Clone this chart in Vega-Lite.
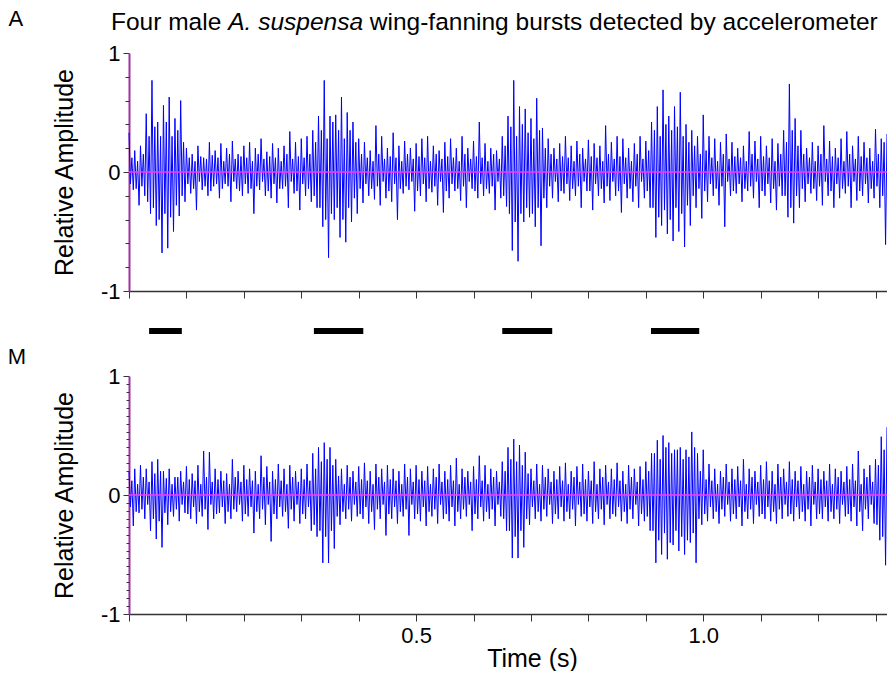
{
"$schema": "https://vega.github.io/schema/vega-lite/v6.json",
"padding": {"left": 7, "top": 7, "right": 0, "bottom": 0},
"background": "white",
"config": {"view": {"stroke": null}, "font": "Liberation Sans", "axis": {"grid": false, "labelFontSize": 22, "titleFontSize": 25, "labelColor": "black", "titleColor": "black", "titleFontWeight": "normal", "labelFont": "Liberation Sans", "titleFont": "Liberation Sans", "tickColor": "#333333", "labelOverlap": false}},
"datasets": {
"A": [
{"t":0,"v":0.33},{"t":0.0025,"v":-0.1},{"t":0.005,"v":0.12},{"t":0.0075,"v":-0.15},
{"t":0.01,"v":0.18},{"t":0.0125,"v":-0.14},{"t":0.015,"v":0.09},{"t":0.0175,"v":-0.28},
{"t":0.02,"v":0.22},{"t":0.0225,"v":-0.12},{"t":0.025,"v":0.15},{"t":0.0275,"v":-0.2},
{"t":0.03,"v":0.49},{"t":0.0325,"v":-0.25},{"t":0.035,"v":0.3},{"t":0.0375,"v":-0.35},
{"t":0.04,"v":0.77},{"t":0.0425,"v":-0.3},{"t":0.045,"v":0.38},{"t":0.0475,"v":-0.45},
{"t":0.05,"v":0.42},{"t":0.0525,"v":-0.4},{"t":0.055,"v":0.3},{"t":0.0575,"v":-0.68},
{"t":0.06,"v":0.56},{"t":0.0625,"v":-0.35},{"t":0.065,"v":0.42},{"t":0.0675,"v":-0.64},
{"t":0.07,"v":0.63},{"t":0.0725,"v":-0.38},{"t":0.075,"v":0.3},{"t":0.0775,"v":-0.5},
{"t":0.08,"v":0.45},{"t":0.0825,"v":-0.28},{"t":0.085,"v":0.35},{"t":0.0875,"v":-0.37},
{"t":0.09,"v":0.6},{"t":0.0925,"v":-0.2},{"t":0.095,"v":0.25},{"t":0.0975,"v":-0.25},
{"t":0.1,"v":0.2},{"t":0.1025,"v":-0.1},{"t":0.105,"v":0.12},{"t":0.1075,"v":-0.18},
{"t":0.11,"v":0.15},{"t":0.1125,"v":-0.14},{"t":0.115,"v":0.09},{"t":0.1175,"v":-0.32},
{"t":0.12,"v":0.22},{"t":0.1225,"v":-0.08},{"t":0.125,"v":0.13},{"t":0.1275,"v":-0.15},
{"t":0.13,"v":0.12},{"t":0.1325,"v":-0.12},{"t":0.135,"v":0.11},{"t":0.1375,"v":-0.2},
{"t":0.14,"v":0.25},{"t":0.1425,"v":-0.16},{"t":0.145,"v":0.14},{"t":0.1475,"v":-0.12},
{"t":0.15,"v":0.18},{"t":0.1525,"v":-0.1},{"t":0.155,"v":0.12},{"t":0.1575,"v":-0.22},
{"t":0.16,"v":0.24},{"t":0.1625,"v":-0.14},{"t":0.165,"v":0.09},{"t":0.1675,"v":-0.1},
{"t":0.17,"v":0.2},{"t":0.1725,"v":-0.12},{"t":0.175,"v":0.15},{"t":0.1775,"v":-0.25},
{"t":0.18,"v":0.26},{"t":0.1825,"v":-0.08},{"t":0.185,"v":0.11},{"t":0.1875,"v":-0.14},
{"t":0.19,"v":0.15},{"t":0.1925,"v":-0.16},{"t":0.195,"v":0.13},{"t":0.1975,"v":-0.2},
{"t":0.2,"v":0.22},{"t":0.2025,"v":-0.1},{"t":0.205,"v":0.12},{"t":0.2075,"v":-0.18},
{"t":0.21,"v":0.25},{"t":0.2125,"v":-0.14},{"t":0.215,"v":0.09},{"t":0.2175,"v":-0.35},
{"t":0.22,"v":0.2},{"t":0.2225,"v":-0.12},{"t":0.225,"v":0.15},{"t":0.2275,"v":-0.15},
{"t":0.23,"v":0.28},{"t":0.2325,"v":-0.08},{"t":0.235,"v":0.11},{"t":0.2375,"v":-0.2},
{"t":0.24,"v":0.17},{"t":0.2425,"v":-0.16},{"t":0.245,"v":0.13},{"t":0.2475,"v":-0.22},
{"t":0.25,"v":0.24},{"t":0.2525,"v":-0.1},{"t":0.255,"v":0.12},{"t":0.2575,"v":-0.26},
{"t":0.26,"v":0.2},{"t":0.2625,"v":-0.14},{"t":0.265,"v":0.09},{"t":0.2675,"v":-0.14},
{"t":0.27,"v":0.22},{"t":0.2725,"v":-0.12},{"t":0.275,"v":0.15},{"t":0.2775,"v":-0.3},
{"t":0.28,"v":0.34},{"t":0.2825,"v":-0.08},{"t":0.285,"v":0.11},{"t":0.2875,"v":-0.18},
{"t":0.29,"v":0.25},{"t":0.2925,"v":-0.16},{"t":0.295,"v":0.13},{"t":0.2975,"v":-0.32},
{"t":0.3,"v":0.28},{"t":0.3025,"v":-0.1},{"t":0.305,"v":0.12},{"t":0.3075,"v":-0.2},
{"t":0.31,"v":0.3},{"t":0.3125,"v":-0.14},{"t":0.315,"v":0.15},{"t":0.3175,"v":-0.25},
{"t":0.32,"v":0.35},{"t":0.3225,"v":-0.2},{"t":0.325,"v":0.25},{"t":0.3275,"v":-0.3},
{"t":0.33,"v":0.47},{"t":0.3325,"v":-0.3},{"t":0.335,"v":0.35},{"t":0.3375,"v":-0.46},
{"t":0.34,"v":0.77},{"t":0.3425,"v":-0.4},{"t":0.345,"v":0.28},{"t":0.3475,"v":-0.72},
{"t":0.35,"v":0.47},{"t":0.3525,"v":-0.35},{"t":0.355,"v":0.42},{"t":0.3575,"v":-0.4},
{"t":0.36,"v":0.48},{"t":0.3625,"v":-0.3},{"t":0.365,"v":0.35},{"t":0.3675,"v":-0.55},
{"t":0.37,"v":0.63},{"t":0.3725,"v":-0.4},{"t":0.375,"v":0.28},{"t":0.3775,"v":-0.59},
{"t":0.38,"v":0.5},{"t":0.3825,"v":-0.3},{"t":0.385,"v":0.35},{"t":0.3875,"v":-0.42},
{"t":0.39,"v":0.42},{"t":0.3925,"v":-0.22},{"t":0.395,"v":0.25},{"t":0.3975,"v":-0.35},
{"t":0.4,"v":0.28},{"t":0.4025,"v":-0.14},{"t":0.405,"v":0.15},{"t":0.4075,"v":-0.26},
{"t":0.41,"v":0.25},{"t":0.4125,"v":-0.1},{"t":0.415,"v":0.12},{"t":0.4175,"v":-0.2},
{"t":0.42,"v":0.18},{"t":0.4225,"v":-0.14},{"t":0.425,"v":0.09},{"t":0.4275,"v":-0.23},
{"t":0.43,"v":0.39},{"t":0.4325,"v":-0.12},{"t":0.435,"v":0.15},{"t":0.4375,"v":-0.28},
{"t":0.44,"v":0.3},{"t":0.4425,"v":-0.08},{"t":0.445,"v":0.11},{"t":0.4475,"v":-0.22},
{"t":0.45,"v":0.2},{"t":0.4525,"v":-0.16},{"t":0.455,"v":0.13},{"t":0.4575,"v":-0.25},
{"t":0.46,"v":0.33},{"t":0.4625,"v":-0.1},{"t":0.465,"v":0.12},{"t":0.4675,"v":-0.4},
{"t":0.47,"v":0.22},{"t":0.4725,"v":-0.14},{"t":0.475,"v":0.09},{"t":0.4775,"v":-0.18},
{"t":0.48,"v":0.26},{"t":0.4825,"v":-0.12},{"t":0.485,"v":0.15},{"t":0.4875,"v":-0.15},
{"t":0.49,"v":0.2},{"t":0.4925,"v":-0.08},{"t":0.495,"v":0.11},{"t":0.4975,"v":-0.33},
{"t":0.5,"v":0.24},{"t":0.5025,"v":-0.16},{"t":0.505,"v":0.13},{"t":0.5075,"v":-0.2},
{"t":0.51,"v":0.28},{"t":0.5125,"v":-0.1},{"t":0.515,"v":0.12},{"t":0.5175,"v":-0.25},
{"t":0.52,"v":0.3},{"t":0.5225,"v":-0.14},{"t":0.525,"v":0.09},{"t":0.5275,"v":-0.17},
{"t":0.53,"v":0.22},{"t":0.5325,"v":-0.12},{"t":0.535,"v":0.15},{"t":0.5375,"v":-0.28},
{"t":0.54,"v":0.18},{"t":0.5425,"v":-0.08},{"t":0.545,"v":0.11},{"t":0.5475,"v":-0.34},
{"t":0.55,"v":0.25},{"t":0.5525,"v":-0.16},{"t":0.555,"v":0.13},{"t":0.5575,"v":-0.22},
{"t":0.56,"v":0.28},{"t":0.5625,"v":-0.1},{"t":0.565,"v":0.12},{"t":0.5675,"v":-0.16},
{"t":0.57,"v":0.2},{"t":0.5725,"v":-0.14},{"t":0.575,"v":0.09},{"t":0.5775,"v":-0.24},
{"t":0.58,"v":0.3},{"t":0.5825,"v":-0.12},{"t":0.585,"v":0.15},{"t":0.5875,"v":-0.3},
{"t":0.59,"v":0.2},{"t":0.5925,"v":-0.08},{"t":0.595,"v":0.11},{"t":0.5975,"v":-0.14},
{"t":0.6,"v":0.26},{"t":0.6025,"v":-0.16},{"t":0.605,"v":0.13},{"t":0.6075,"v":-0.22},
{"t":0.61,"v":0.42},{"t":0.6125,"v":-0.1},{"t":0.615,"v":0.12},{"t":0.6175,"v":-0.2},
{"t":0.62,"v":0.24},{"t":0.6225,"v":-0.14},{"t":0.625,"v":0.09},{"t":0.6275,"v":-0.18},
{"t":0.63,"v":0.2},{"t":0.6325,"v":-0.12},{"t":0.635,"v":0.15},{"t":0.6375,"v":-0.32},
{"t":0.64,"v":0.18},{"t":0.6425,"v":-0.08},{"t":0.645,"v":0.11},{"t":0.6475,"v":-0.22},
{"t":0.65,"v":0.3},{"t":0.6525,"v":-0.2},{"t":0.655,"v":0.22},{"t":0.6575,"v":-0.29},
{"t":0.66,"v":0.47},{"t":0.6625,"v":-0.35},{"t":0.665,"v":0.38},{"t":0.6675,"v":-0.66},
{"t":0.67,"v":0.77},{"t":0.6725,"v":-0.42},{"t":0.675,"v":0.3},{"t":0.6775,"v":-0.75},
{"t":0.68,"v":0.55},{"t":0.6825,"v":-0.35},{"t":0.685,"v":0.4},{"t":0.6875,"v":-0.42},
{"t":0.69,"v":0.53},{"t":0.6925,"v":-0.3},{"t":0.695,"v":0.33},{"t":0.6975,"v":-0.38},
{"t":0.7,"v":0.45},{"t":0.7025,"v":-0.35},{"t":0.705,"v":0.28},{"t":0.7075,"v":-0.46},
{"t":0.71,"v":0.62},{"t":0.7125,"v":-0.3},{"t":0.715,"v":0.35},{"t":0.7175,"v":-0.62},
{"t":0.72,"v":0.37},{"t":0.7225,"v":-0.22},{"t":0.725,"v":0.2},{"t":0.7275,"v":-0.3},
{"t":0.73,"v":0.28},{"t":0.7325,"v":-0.12},{"t":0.735,"v":0.15},{"t":0.7375,"v":-0.22},
{"t":0.74,"v":0.2},{"t":0.7425,"v":-0.08},{"t":0.745,"v":0.11},{"t":0.7475,"v":-0.25},
{"t":0.75,"v":0.24},{"t":0.7525,"v":-0.16},{"t":0.755,"v":0.13},{"t":0.7575,"v":-0.18},
{"t":0.76,"v":0.3},{"t":0.7625,"v":-0.1},{"t":0.765,"v":0.12},{"t":0.7675,"v":-0.24},
{"t":0.77,"v":0.22},{"t":0.7725,"v":-0.14},{"t":0.775,"v":0.09},{"t":0.7775,"v":-0.2},
{"t":0.78,"v":0.26},{"t":0.7825,"v":-0.12},{"t":0.785,"v":0.15},{"t":0.7875,"v":-0.3},
{"t":0.79,"v":0.2},{"t":0.7925,"v":-0.08},{"t":0.795,"v":0.11},{"t":0.7975,"v":-0.16},
{"t":0.8,"v":0.27},{"t":0.8025,"v":-0.16},{"t":0.805,"v":0.13},{"t":0.8075,"v":-0.32},
{"t":0.81,"v":0.24},{"t":0.8125,"v":-0.1},{"t":0.815,"v":0.12},{"t":0.8175,"v":-0.2},
{"t":0.82,"v":0.22},{"t":0.8225,"v":-0.14},{"t":0.825,"v":0.09},{"t":0.8275,"v":-0.26},
{"t":0.83,"v":0.39},{"t":0.8325,"v":-0.12},{"t":0.835,"v":0.15},{"t":0.8375,"v":-0.24},
{"t":0.84,"v":0.25},{"t":0.8425,"v":-0.08},{"t":0.845,"v":0.11},{"t":0.8475,"v":-0.2},
{"t":0.85,"v":0.3},{"t":0.8525,"v":-0.16},{"t":0.855,"v":0.13},{"t":0.8575,"v":-0.34},
{"t":0.86,"v":0.28},{"t":0.8625,"v":-0.1},{"t":0.865,"v":0.12},{"t":0.8675,"v":-0.22},
{"t":0.87,"v":0.2},{"t":0.8725,"v":-0.14},{"t":0.875,"v":0.09},{"t":0.8775,"v":-0.25},
{"t":0.88,"v":0.24},{"t":0.8825,"v":-0.12},{"t":0.885,"v":0.15},{"t":0.8875,"v":-0.3},
{"t":0.89,"v":0.3},{"t":0.8925,"v":-0.08},{"t":0.895,"v":0.11},{"t":0.8975,"v":-0.22},
{"t":0.9,"v":0.26},{"t":0.9025,"v":-0.16},{"t":0.905,"v":0.18},{"t":0.9075,"v":-0.3},
{"t":0.91,"v":0.42},{"t":0.9125,"v":-0.3},{"t":0.915,"v":0.35},{"t":0.9175,"v":-0.55},
{"t":0.92,"v":0.55},{"t":0.9225,"v":-0.38},{"t":0.925,"v":0.3},{"t":0.9275,"v":-0.45},
{"t":0.93,"v":0.69},{"t":0.9325,"v":-0.32},{"t":0.935,"v":0.4},{"t":0.9375,"v":-0.52},
{"t":0.94,"v":0.47},{"t":0.9425,"v":-0.4},{"t":0.945,"v":0.35},{"t":0.9475,"v":-0.58},
{"t":0.95,"v":0.55},{"t":0.9525,"v":-0.3},{"t":0.955,"v":0.38},{"t":0.9575,"v":-0.5},
{"t":0.96,"v":0.67},{"t":0.9625,"v":-0.35},{"t":0.965,"v":0.3},{"t":0.9675,"v":-0.63},
{"t":0.97,"v":0.4},{"t":0.9725,"v":-0.28},{"t":0.975,"v":0.25},{"t":0.9775,"v":-0.45},
{"t":0.98,"v":0.35},{"t":0.9825,"v":-0.2},{"t":0.985,"v":0.22},{"t":0.9875,"v":-0.3},
{"t":0.99,"v":0.3},{"t":0.9925,"v":-0.14},{"t":0.995,"v":0.15},{"t":0.9975,"v":-0.39},
{"t":1,"v":0.48},{"t":1.0025,"v":-0.16},{"t":1.005,"v":0.18},{"t":1.0075,"v":-0.25},
{"t":1.01,"v":0.3},{"t":1.0125,"v":-0.1},{"t":1.015,"v":0.12},{"t":1.0175,"v":-0.2},
{"t":1.02,"v":0.28},{"t":1.0225,"v":-0.14},{"t":1.025,"v":0.09},{"t":1.0275,"v":-0.28},
{"t":1.03,"v":0.25},{"t":1.0325,"v":-0.12},{"t":1.035,"v":0.15},{"t":1.0375,"v":-0.46},
{"t":1.04,"v":0.32},{"t":1.0425,"v":-0.08},{"t":1.045,"v":0.11},{"t":1.0475,"v":-0.2},
{"t":1.05,"v":0.25},{"t":1.0525,"v":-0.16},{"t":1.055,"v":0.13},{"t":1.0575,"v":-0.18},
{"t":1.06,"v":0.2},{"t":1.0625,"v":-0.1},{"t":1.065,"v":0.12},{"t":1.0675,"v":-0.25},
{"t":1.07,"v":0.22},{"t":1.0725,"v":-0.14},{"t":1.075,"v":0.09},{"t":1.0775,"v":-0.16},
{"t":1.08,"v":0.34},{"t":1.0825,"v":-0.12},{"t":1.085,"v":0.15},{"t":1.0875,"v":-0.22},
{"t":1.09,"v":0.26},{"t":1.0925,"v":-0.08},{"t":1.095,"v":0.11},{"t":1.0975,"v":-0.3},
{"t":1.1,"v":0.3},{"t":1.1025,"v":-0.16},{"t":1.105,"v":0.13},{"t":1.1075,"v":-0.2},
{"t":1.11,"v":0.22},{"t":1.1125,"v":-0.1},{"t":1.115,"v":0.12},{"t":1.1175,"v":-0.26},
{"t":1.12,"v":0.28},{"t":1.1225,"v":-0.14},{"t":1.125,"v":0.09},{"t":1.1275,"v":-0.32},
{"t":1.13,"v":0.24},{"t":1.1325,"v":-0.12},{"t":1.135,"v":0.15},{"t":1.1375,"v":-0.2},
{"t":1.14,"v":0.35},{"t":1.1425,"v":-0.2},{"t":1.145,"v":0.25},{"t":1.1475,"v":-0.38},
{"t":1.15,"v":0.74},{"t":1.1525,"v":-0.3},{"t":1.155,"v":0.35},{"t":1.1575,"v":-0.43},
{"t":1.16,"v":0.45},{"t":1.1625,"v":-0.2},{"t":1.165,"v":0.22},{"t":1.1675,"v":-0.3},
{"t":1.17,"v":0.35},{"t":1.1725,"v":-0.14},{"t":1.175,"v":0.15},{"t":1.1775,"v":-0.25},
{"t":1.18,"v":0.2},{"t":1.1825,"v":-0.1},{"t":1.185,"v":0.12},{"t":1.1875,"v":-0.18},
{"t":1.19,"v":0.25},{"t":1.1925,"v":-0.14},{"t":1.195,"v":0.09},{"t":1.1975,"v":-0.24},
{"t":1.2,"v":0.22},{"t":1.2025,"v":-0.12},{"t":1.205,"v":0.15},{"t":1.2075,"v":-0.28},
{"t":1.21,"v":0.39},{"t":1.2125,"v":-0.08},{"t":1.215,"v":0.11},{"t":1.2175,"v":-0.2},
{"t":1.22,"v":0.26},{"t":1.2225,"v":-0.16},{"t":1.225,"v":0.13},{"t":1.2275,"v":-0.3},
{"t":1.23,"v":0.2},{"t":1.2325,"v":-0.1},{"t":1.235,"v":0.12},{"t":1.2375,"v":-0.22},
{"t":1.24,"v":0.28},{"t":1.2425,"v":-0.14},{"t":1.245,"v":0.09},{"t":1.2475,"v":-0.18},
{"t":1.25,"v":0.34},{"t":1.2525,"v":-0.12},{"t":1.255,"v":0.15},{"t":1.2575,"v":-0.3},
{"t":1.26,"v":0.22},{"t":1.2625,"v":-0.08},{"t":1.265,"v":0.11},{"t":1.2675,"v":-0.24},
{"t":1.27,"v":0.3},{"t":1.2725,"v":-0.16},{"t":1.275,"v":0.13},{"t":1.2775,"v":-0.2},
{"t":1.28,"v":0.25},{"t":1.2825,"v":-0.1},{"t":1.285,"v":0.12},{"t":1.2875,"v":-0.26},
{"t":1.29,"v":0.2},{"t":1.2925,"v":-0.14},{"t":1.295,"v":0.09},{"t":1.2975,"v":-0.22},
{"t":1.3,"v":0.36},{"t":1.3025,"v":-0.12},{"t":1.305,"v":0.15},{"t":1.3075,"v":-0.3},
{"t":1.31,"v":0.28},{"t":1.3125,"v":-0.2},{"t":1.315,"v":0.25},{"t":1.3175,"v":-0.61},
{"t":1.32,"v":0.32}
],
"M": [
{"t":0,"v":0.2},{"t":0.0025,"v":-0.1},{"t":0.005,"v":0.12},{"t":0.0075,"v":-0.26},
{"t":0.01,"v":0.22},{"t":0.0125,"v":-0.14},{"t":0.015,"v":0.09},{"t":0.0175,"v":-0.15},
{"t":0.02,"v":0.25},{"t":0.0225,"v":-0.12},{"t":0.025,"v":0.15},{"t":0.0275,"v":-0.2},
{"t":0.03,"v":0.22},{"t":0.0325,"v":-0.08},{"t":0.035,"v":0.11},{"t":0.0375,"v":-0.3},
{"t":0.04,"v":0.28},{"t":0.0425,"v":-0.2},{"t":0.045,"v":0.18},{"t":0.0475,"v":-0.37},
{"t":0.05,"v":0.3},{"t":0.0525,"v":-0.22},{"t":0.055,"v":0.2},{"t":0.0575,"v":-0.44},
{"t":0.06,"v":0.2},{"t":0.0625,"v":-0.15},{"t":0.065,"v":0.14},{"t":0.0675,"v":-0.25},
{"t":0.07,"v":0.22},{"t":0.0725,"v":-0.14},{"t":0.075,"v":0.09},{"t":0.0775,"v":-0.18},
{"t":0.08,"v":0.15},{"t":0.0825,"v":-0.12},{"t":0.085,"v":0.15},{"t":0.0875,"v":-0.22},
{"t":0.09,"v":0.2},{"t":0.0925,"v":-0.08},{"t":0.095,"v":0.11},{"t":0.0975,"v":-0.15},
{"t":0.1,"v":0.24},{"t":0.1025,"v":-0.16},{"t":0.105,"v":0.13},{"t":0.1075,"v":-0.2},
{"t":0.11,"v":0.18},{"t":0.1125,"v":-0.1},{"t":0.115,"v":0.12},{"t":0.1175,"v":-0.24},
{"t":0.12,"v":0.25},{"t":0.1225,"v":-0.14},{"t":0.125,"v":0.09},{"t":0.1275,"v":-0.18},
{"t":0.13,"v":0.37},{"t":0.1325,"v":-0.12},{"t":0.135,"v":0.15},{"t":0.1375,"v":-0.29},
{"t":0.14,"v":0.36},{"t":0.1425,"v":-0.08},{"t":0.145,"v":0.11},{"t":0.1475,"v":-0.2},
{"t":0.15,"v":0.22},{"t":0.1525,"v":-0.16},{"t":0.155,"v":0.13},{"t":0.1575,"v":-0.15},
{"t":0.16,"v":0.2},{"t":0.1625,"v":-0.1},{"t":0.165,"v":0.12},{"t":0.1675,"v":-0.24},
{"t":0.17,"v":0.18},{"t":0.1725,"v":-0.14},{"t":0.175,"v":0.09},{"t":0.1775,"v":-0.2},
{"t":0.18,"v":0.3},{"t":0.1825,"v":-0.12},{"t":0.185,"v":0.15},{"t":0.1875,"v":-0.14},
{"t":0.19,"v":0.2},{"t":0.1925,"v":-0.08},{"t":0.195,"v":0.11},{"t":0.1975,"v":-0.22},
{"t":0.2,"v":0.25},{"t":0.2025,"v":-0.16},{"t":0.205,"v":0.13},{"t":0.2075,"v":-0.18},
{"t":0.21,"v":0.22},{"t":0.2125,"v":-0.1},{"t":0.215,"v":0.12},{"t":0.2175,"v":-0.32},
{"t":0.22,"v":0.2},{"t":0.2225,"v":-0.14},{"t":0.225,"v":0.09},{"t":0.2275,"v":-0.2},
{"t":0.23,"v":0.33},{"t":0.2325,"v":-0.12},{"t":0.235,"v":0.15},{"t":0.2375,"v":-0.25},
{"t":0.24,"v":0.24},{"t":0.2425,"v":-0.08},{"t":0.245,"v":0.11},{"t":0.2475,"v":-0.39},
{"t":0.25,"v":0.2},{"t":0.2525,"v":-0.16},{"t":0.255,"v":0.13},{"t":0.2575,"v":-0.2},
{"t":0.26,"v":0.26},{"t":0.2625,"v":-0.1},{"t":0.265,"v":0.12},{"t":0.2675,"v":-0.18},
{"t":0.27,"v":0.22},{"t":0.2725,"v":-0.14},{"t":0.275,"v":0.09},{"t":0.2775,"v":-0.28},
{"t":0.28,"v":0.25},{"t":0.2825,"v":-0.12},{"t":0.285,"v":0.15},{"t":0.2875,"v":-0.22},
{"t":0.29,"v":0.2},{"t":0.2925,"v":-0.08},{"t":0.295,"v":0.11},{"t":0.2975,"v":-0.24},
{"t":0.3,"v":0.22},{"t":0.3025,"v":-0.16},{"t":0.305,"v":0.13},{"t":0.3075,"v":-0.2},
{"t":0.31,"v":0.26},{"t":0.3125,"v":-0.1},{"t":0.315,"v":0.12},{"t":0.3175,"v":-0.3},
{"t":0.32,"v":0.35},{"t":0.3225,"v":-0.25},{"t":0.325,"v":0.22},{"t":0.3275,"v":-0.35},
{"t":0.33,"v":0.4},{"t":0.3325,"v":-0.3},{"t":0.335,"v":0.28},{"t":0.3375,"v":-0.57},
{"t":0.34,"v":0.44},{"t":0.3425,"v":-0.35},{"t":0.345,"v":0.3},{"t":0.3475,"v":-0.57},
{"t":0.35,"v":0.4},{"t":0.3525,"v":-0.3},{"t":0.355,"v":0.25},{"t":0.3575,"v":-0.45},
{"t":0.36,"v":0.3},{"t":0.3625,"v":-0.18},{"t":0.365,"v":0.16},{"t":0.3675,"v":-0.25},
{"t":0.37,"v":0.22},{"t":0.3725,"v":-0.14},{"t":0.375,"v":0.09},{"t":0.3775,"v":-0.2},
{"t":0.38,"v":0.25},{"t":0.3825,"v":-0.12},{"t":0.385,"v":0.15},{"t":0.3875,"v":-0.22},
{"t":0.39,"v":0.2},{"t":0.3925,"v":-0.08},{"t":0.395,"v":0.11},{"t":0.3975,"v":-0.18},
{"t":0.4,"v":0.24},{"t":0.4025,"v":-0.16},{"t":0.405,"v":0.13},{"t":0.4075,"v":-0.2},
{"t":0.41,"v":0.27},{"t":0.4125,"v":-0.1},{"t":0.415,"v":0.12},{"t":0.4175,"v":-0.24},
{"t":0.42,"v":0.2},{"t":0.4225,"v":-0.14},{"t":0.425,"v":0.09},{"t":0.4275,"v":-0.29},
{"t":0.43,"v":0.26},{"t":0.4325,"v":-0.12},{"t":0.435,"v":0.15},{"t":0.4375,"v":-0.2},
{"t":0.44,"v":0.22},{"t":0.4425,"v":-0.08},{"t":0.445,"v":0.11},{"t":0.4475,"v":-0.34},
{"t":0.45,"v":0.25},{"t":0.4525,"v":-0.16},{"t":0.455,"v":0.13},{"t":0.4575,"v":-0.2},
{"t":0.46,"v":0.22},{"t":0.4625,"v":-0.1},{"t":0.465,"v":0.12},{"t":0.4675,"v":-0.24},
{"t":0.47,"v":0.2},{"t":0.4725,"v":-0.14},{"t":0.475,"v":0.09},{"t":0.4775,"v":-0.18},
{"t":0.48,"v":0.26},{"t":0.4825,"v":-0.12},{"t":0.485,"v":0.15},{"t":0.4875,"v":-0.34},
{"t":0.49,"v":0.22},{"t":0.4925,"v":-0.08},{"t":0.495,"v":0.11},{"t":0.4975,"v":-0.2},
{"t":0.5,"v":0.25},{"t":0.5025,"v":-0.16},{"t":0.505,"v":0.13},{"t":0.5075,"v":-0.22},
{"t":0.51,"v":0.2},{"t":0.5125,"v":-0.1},{"t":0.515,"v":0.12},{"t":0.5175,"v":-0.26},
{"t":0.52,"v":0.24},{"t":0.5225,"v":-0.14},{"t":0.525,"v":0.09},{"t":0.5275,"v":-0.18},
{"t":0.53,"v":0.22},{"t":0.5325,"v":-0.12},{"t":0.535,"v":0.15},{"t":0.5375,"v":-0.24},
{"t":0.54,"v":0.26},{"t":0.5425,"v":-0.08},{"t":0.545,"v":0.11},{"t":0.5475,"v":-0.2},
{"t":0.55,"v":0.2},{"t":0.5525,"v":-0.16},{"t":0.555,"v":0.13},{"t":0.5575,"v":-0.22},
{"t":0.56,"v":0.25},{"t":0.5625,"v":-0.1},{"t":0.565,"v":0.12},{"t":0.5675,"v":-0.26},
{"t":0.57,"v":0.31},{"t":0.5725,"v":-0.14},{"t":0.575,"v":0.09},{"t":0.5775,"v":-0.2},
{"t":0.58,"v":0.22},{"t":0.5825,"v":-0.12},{"t":0.585,"v":0.15},{"t":0.5875,"v":-0.18},
{"t":0.59,"v":0.2},{"t":0.5925,"v":-0.08},{"t":0.595,"v":0.11},{"t":0.5975,"v":-0.3},
{"t":0.6,"v":0.24},{"t":0.6025,"v":-0.16},{"t":0.605,"v":0.13},{"t":0.6075,"v":-0.2},
{"t":0.61,"v":0.33},{"t":0.6125,"v":-0.1},{"t":0.615,"v":0.12},{"t":0.6175,"v":-0.22},
{"t":0.62,"v":0.25},{"t":0.6225,"v":-0.14},{"t":0.625,"v":0.09},{"t":0.6275,"v":-0.2},
{"t":0.63,"v":0.22},{"t":0.6325,"v":-0.12},{"t":0.635,"v":0.15},{"t":0.6375,"v":-0.26},
{"t":0.64,"v":0.2},{"t":0.6425,"v":-0.08},{"t":0.645,"v":0.11},{"t":0.6475,"v":-0.18},
{"t":0.65,"v":0.28},{"t":0.6525,"v":-0.2},{"t":0.655,"v":0.2},{"t":0.6575,"v":-0.3},
{"t":0.66,"v":0.4},{"t":0.6625,"v":-0.3},{"t":0.665,"v":0.3},{"t":0.6675,"v":-0.53},
{"t":0.67,"v":0.47},{"t":0.6725,"v":-0.35},{"t":0.675,"v":0.28},{"t":0.6775,"v":-0.53},
{"t":0.68,"v":0.42},{"t":0.6825,"v":-0.3},{"t":0.685,"v":0.25},{"t":0.6875,"v":-0.44},
{"t":0.69,"v":0.36},{"t":0.6925,"v":-0.2},{"t":0.695,"v":0.18},{"t":0.6975,"v":-0.25},
{"t":0.7,"v":0.22},{"t":0.7025,"v":-0.1},{"t":0.705,"v":0.12},{"t":0.7075,"v":-0.2},
{"t":0.71,"v":0.26},{"t":0.7125,"v":-0.14},{"t":0.715,"v":0.09},{"t":0.7175,"v":-0.22},
{"t":0.72,"v":0.25},{"t":0.7225,"v":-0.12},{"t":0.725,"v":0.15},{"t":0.7275,"v":-0.18},
{"t":0.73,"v":0.22},{"t":0.7325,"v":-0.08},{"t":0.735,"v":0.11},{"t":0.7375,"v":-0.24},
{"t":0.74,"v":0.2},{"t":0.7425,"v":-0.16},{"t":0.745,"v":0.13},{"t":0.7475,"v":-0.2},
{"t":0.75,"v":0.24},{"t":0.7525,"v":-0.1},{"t":0.755,"v":0.12},{"t":0.7575,"v":-0.22},
{"t":0.76,"v":0.27},{"t":0.7625,"v":-0.14},{"t":0.765,"v":0.09},{"t":0.7675,"v":-0.2},
{"t":0.77,"v":0.2},{"t":0.7725,"v":-0.12},{"t":0.775,"v":0.15},{"t":0.7775,"v":-0.26},
{"t":0.78,"v":0.24},{"t":0.7825,"v":-0.08},{"t":0.785,"v":0.11},{"t":0.7875,"v":-0.18},
{"t":0.79,"v":0.26},{"t":0.7925,"v":-0.16},{"t":0.795,"v":0.13},{"t":0.7975,"v":-0.22},
{"t":0.8,"v":0.2},{"t":0.8025,"v":-0.1},{"t":0.805,"v":0.12},{"t":0.8075,"v":-0.24},
{"t":0.81,"v":0.28},{"t":0.8125,"v":-0.14},{"t":0.815,"v":0.09},{"t":0.8175,"v":-0.2},
{"t":0.82,"v":0.22},{"t":0.8225,"v":-0.12},{"t":0.825,"v":0.15},{"t":0.8275,"v":-0.25},
{"t":0.83,"v":0.25},{"t":0.8325,"v":-0.08},{"t":0.835,"v":0.11},{"t":0.8375,"v":-0.2},
{"t":0.84,"v":0.22},{"t":0.8425,"v":-0.16},{"t":0.845,"v":0.13},{"t":0.8475,"v":-0.18},
{"t":0.85,"v":0.27},{"t":0.8525,"v":-0.1},{"t":0.855,"v":0.12},{"t":0.8575,"v":-0.22},
{"t":0.86,"v":0.2},{"t":0.8625,"v":-0.14},{"t":0.865,"v":0.09},{"t":0.8675,"v":-0.24},
{"t":0.87,"v":0.25},{"t":0.8725,"v":-0.12},{"t":0.875,"v":0.15},{"t":0.8775,"v":-0.2},
{"t":0.88,"v":0.22},{"t":0.8825,"v":-0.08},{"t":0.885,"v":0.11},{"t":0.8875,"v":-0.26},
{"t":0.89,"v":0.24},{"t":0.8925,"v":-0.16},{"t":0.895,"v":0.13},{"t":0.8975,"v":-0.22},
{"t":0.9,"v":0.28},{"t":0.9025,"v":-0.18},{"t":0.905,"v":0.2},{"t":0.9075,"v":-0.3},
{"t":0.91,"v":0.35},{"t":0.9125,"v":-0.3},{"t":0.915,"v":0.35},{"t":0.9175,"v":-0.57},
{"t":0.92,"v":0.46},{"t":0.9225,"v":-0.38},{"t":0.925,"v":0.3},{"t":0.9275,"v":-0.5},
{"t":0.93,"v":0.5},{"t":0.9325,"v":-0.32},{"t":0.935,"v":0.4},{"t":0.9375,"v":-0.54},
{"t":0.94,"v":0.44},{"t":0.9425,"v":-0.4},{"t":0.945,"v":0.35},{"t":0.9475,"v":-0.42},
{"t":0.95,"v":0.38},{"t":0.9525,"v":-0.3},{"t":0.955,"v":0.38},{"t":0.9575,"v":-0.47},
{"t":0.96,"v":0.4},{"t":0.9625,"v":-0.35},{"t":0.965,"v":0.3},{"t":0.9675,"v":-0.5},
{"t":0.97,"v":0.38},{"t":0.9725,"v":-0.38},{"t":0.975,"v":0.32},{"t":0.9775,"v":-0.4},
{"t":0.98,"v":0.53},{"t":0.9825,"v":-0.32},{"t":0.985,"v":0.4},{"t":0.9875,"v":-0.57},
{"t":0.99,"v":0.35},{"t":0.9925,"v":-0.2},{"t":0.995,"v":0.2},{"t":0.9975,"v":-0.25},
{"t":1,"v":0.38},{"t":1.0025,"v":-0.16},{"t":1.005,"v":0.13},{"t":1.0075,"v":-0.22},
{"t":1.01,"v":0.26},{"t":1.0125,"v":-0.1},{"t":1.015,"v":0.12},{"t":1.0175,"v":-0.2},
{"t":1.02,"v":0.22},{"t":1.0225,"v":-0.14},{"t":1.025,"v":0.09},{"t":1.0275,"v":-0.24},
{"t":1.03,"v":0.2},{"t":1.0325,"v":-0.12},{"t":1.035,"v":0.15},{"t":1.0375,"v":-0.18},
{"t":1.04,"v":0.26},{"t":1.0425,"v":-0.08},{"t":1.045,"v":0.11},{"t":1.0475,"v":-0.22},
{"t":1.05,"v":0.22},{"t":1.0525,"v":-0.16},{"t":1.055,"v":0.13},{"t":1.0575,"v":-0.2},
{"t":1.06,"v":0.24},{"t":1.0625,"v":-0.1},{"t":1.065,"v":0.12},{"t":1.0675,"v":-0.26},
{"t":1.07,"v":0.3},{"t":1.0725,"v":-0.14},{"t":1.075,"v":0.09},{"t":1.0775,"v":-0.2},
{"t":1.08,"v":0.22},{"t":1.0825,"v":-0.12},{"t":1.085,"v":0.15},{"t":1.0875,"v":-0.24},
{"t":1.09,"v":0.2},{"t":1.0925,"v":-0.08},{"t":1.095,"v":0.11},{"t":1.0975,"v":-0.18},
{"t":1.1,"v":0.25},{"t":1.1025,"v":-0.16},{"t":1.105,"v":0.13},{"t":1.1075,"v":-0.2},
{"t":1.11,"v":0.28},{"t":1.1125,"v":-0.1},{"t":1.115,"v":0.12},{"t":1.1175,"v":-0.22},
{"t":1.12,"v":0.2},{"t":1.1225,"v":-0.14},{"t":1.125,"v":0.09},{"t":1.1275,"v":-0.24},
{"t":1.13,"v":0.26},{"t":1.1325,"v":-0.12},{"t":1.135,"v":0.15},{"t":1.1375,"v":-0.2},
{"t":1.14,"v":0.22},{"t":1.1425,"v":-0.08},{"t":1.145,"v":0.11},{"t":1.1475,"v":-0.18},
{"t":1.15,"v":0.28},{"t":1.1525,"v":-0.16},{"t":1.155,"v":0.13},{"t":1.1575,"v":-0.22},
{"t":1.16,"v":0.2},{"t":1.1625,"v":-0.1},{"t":1.165,"v":0.12},{"t":1.1675,"v":-0.2},
{"t":1.17,"v":0.24},{"t":1.1725,"v":-0.14},{"t":1.175,"v":0.09},{"t":1.1775,"v":-0.22},
{"t":1.18,"v":0.2},{"t":1.1825,"v":-0.12},{"t":1.185,"v":0.15},{"t":1.1875,"v":-0.26},
{"t":1.19,"v":0.25},{"t":1.1925,"v":-0.08},{"t":1.195,"v":0.11},{"t":1.1975,"v":-0.2},
{"t":1.2,"v":0.22},{"t":1.2025,"v":-0.16},{"t":1.205,"v":0.13},{"t":1.2075,"v":-0.2},
{"t":1.21,"v":0.2},{"t":1.2125,"v":-0.1},{"t":1.215,"v":0.12},{"t":1.2175,"v":-0.22},
{"t":1.22,"v":0.26},{"t":1.2225,"v":-0.14},{"t":1.225,"v":0.09},{"t":1.2275,"v":-0.2},
{"t":1.23,"v":0.22},{"t":1.2325,"v":-0.12},{"t":1.235,"v":0.15},{"t":1.2375,"v":-0.24},
{"t":1.24,"v":0.2},{"t":1.2425,"v":-0.08},{"t":1.245,"v":0.11},{"t":1.2475,"v":-0.18},
{"t":1.25,"v":0.24},{"t":1.2525,"v":-0.16},{"t":1.255,"v":0.13},{"t":1.2575,"v":-0.22},
{"t":1.26,"v":0.26},{"t":1.2625,"v":-0.1},{"t":1.265,"v":0.12},{"t":1.2675,"v":-0.26},
{"t":1.27,"v":0.37},{"t":1.2725,"v":-0.14},{"t":1.275,"v":0.09},{"t":1.2775,"v":-0.3},
{"t":1.28,"v":0.22},{"t":1.2825,"v":-0.12},{"t":1.285,"v":0.15},{"t":1.2875,"v":-0.2},
{"t":1.29,"v":0.25},{"t":1.2925,"v":-0.08},{"t":1.295,"v":0.11},{"t":1.2975,"v":-0.24},
{"t":1.3,"v":0.3},{"t":1.3025,"v":-0.25},{"t":1.305,"v":0.25},{"t":1.3075,"v":-0.38},
{"t":1.31,"v":0.49},{"t":1.3125,"v":-0.35},{"t":1.315,"v":0.38},{"t":1.3175,"v":-0.59},
{"t":1.32,"v":0.57}
],
"bars": [{"s":0.035,"e":0.092},{"s":0.322,"e":0.408},{"s":0.65,"e":0.737},{"s":0.909,"e":0.993}]
},
"vconcat": [
{
"width": 758, "height": 238,
"resolve": {"axis": {"y": "independent"}},
"layer": [
{"data": {"name": "A"}, "mark": {"type": "line", "color": "#0000ff", "strokeWidth": 1}, "encoding": {
 "x": {"field": "t", "type": "quantitative", "scale": {"domain": [0, 1.32], "nice": false, "zero": false},
   "axis": {"values": [0,0.05,0.1,0.15,0.2,0.25,0.3,0.35,0.4,0.45,0.5,0.55,0.6,0.65,0.7,0.75,0.8,0.85,0.9,0.95,1,1.05,1.1,1.15,1.2,1.25,1.3], "labels": false, "title": null, "domainColor": "#333333", "domainWidth": 1.5,
   "tickSize": {"condition": {"test": "abs(datum.value*10 - round(datum.value*10)) < 0.001", "value": 7}, "value": 4}}},
 "y": {"field": "v", "type": "quantitative", "scale": {"domain": [-1, 1], "nice": false},
   "axis": {"orient": "left", "values": [-1, 0, 1], "labelExpr": "datum.value == -1 ? '-1' : datum.value == 0 ? '0' : '1'", "domainColor": "#a030a0", "domainWidth": 2, "tickSize": 6, "labelPadding": 3, "titlePadding": 23, "title": "Relative Amplitude"}}
}},
{"data": {"values": [{}]}, "mark": {"type": "rule", "color": "#ff33ff", "strokeWidth": 1.5}, "encoding": {"y": {"datum": 0, "axis": {"orient": "left", "values": [-0.8,-0.6,-0.4,-0.2,0.2,0.4,0.6,0.8], "labels": false, "title": null, "domain": false, "tickSize": 4}}}},
{"data": {"name": "bars"}, "mark": {"type": "rule", "color": "black", "strokeWidth": 6, "strokeCap": "butt"}, "encoding": {"x": {"field": "s", "type": "quantitative"}, "x2": {"field": "e"}, "y": {"datum": -1.336, "axis": null}}},
{"data": {"values": [{"s": "A"}]}, "mark": {"type": "text", "fontSize": 22, "align": "center", "baseline": "middle"}, "encoding": {"text": {"field": "s"}, "x": {"datum": -0.197}, "y": {"datum": 1.286, "axis": null}}},
{"data": {"values": [{"s": "Four male"}]}, "mark": {"type": "text", "fontSize": 24.5, "align": "left", "baseline": "middle"}, "encoding": {"text": {"field": "s"}, "x": {"datum": -0.0314}, "y": {"datum": 1.252, "axis": null}}},
{"data": {"values": [{"s": "A. suspensa"}]}, "mark": {"type": "text", "fontSize": 24.5, "fontStyle": "italic", "align": "left", "baseline": "middle"}, "encoding": {"text": {"field": "s"}, "x": {"datum": 0.1727}, "y": {"datum": 1.252, "axis": null}}},
{"data": {"values": [{"s": "wing-fanning bursts detected by accelerometer"}]}, "mark": {"type": "text", "fontSize": 24.5, "align": "left", "baseline": "middle"}, "encoding": {"text": {"field": "s"}, "x": {"datum": 0.4193}, "y": {"datum": 1.252, "axis": null}}}
]
},
{
"width": 758, "height": 238,
"resolve": {"axis": {"y": "independent"}},
"layer": [
{"data": {"name": "M"}, "mark": {"type": "line", "color": "#0000ff", "strokeWidth": 1}, "encoding": {
 "x": {"field": "t", "type": "quantitative", "scale": {"domain": [0, 1.32], "nice": false, "zero": false},
   "axis": {"values": [0,0.05,0.1,0.15,0.2,0.25,0.3,0.35,0.4,0.45,0.5,0.55,0.6,0.65,0.7,0.75,0.8,0.85,0.9,0.95,1,1.05,1.1,1.15,1.2,1.25,1.3], "labelOverlap": false, "labelExpr": "datum.value == 0.5 ? '0.5' : datum.value == 1 ? '1.0' : ''", "title": "Time (s)", "titleX": 403, "titleAlign": "center", "domainColor": "#333333", "domainWidth": 1.5, "labelPadding": 4, "titlePadding": 0,
   "tickSize": {"condition": {"test": "abs(datum.value*10 - round(datum.value*10)) < 0.001", "value": 7}, "value": 4}}},
 "y": {"field": "v", "type": "quantitative", "scale": {"domain": [-1, 1], "nice": false},
   "axis": {"orient": "left", "values": [-1, 0, 1], "labelExpr": "datum.value == -1 ? '-1' : datum.value == 0 ? '0' : '1'", "domainColor": "#a030a0", "domainWidth": 2, "tickSize": 6, "labelPadding": 3, "titlePadding": 23, "title": "Relative Amplitude"}}
}},
{"data": {"values": [{}]}, "mark": {"type": "rule", "color": "#ff33ff", "strokeWidth": 1.5}, "encoding": {"y": {"datum": 0, "axis": {"orient": "left", "values": [-0.9333,-0.8667,-0.8,-0.7333,-0.6667,-0.6,-0.5333,-0.4667,-0.4,-0.3333,-0.2667,-0.2,-0.1333,-0.0667,0.0667,0.1333,0.2,0.2667,0.3333,0.4,0.4667,0.5333,0.6,0.6667,0.7333,0.8,0.8667,0.9333], "labels": false, "title": null, "domain": false, "tickSize": 3}}}},
{"data": {"values": [{"s": "M"}]}, "mark": {"type": "text", "fontSize": 22, "align": "center", "baseline": "middle"}, "encoding": {"text": {"field": "s"}, "x": {"datum": -0.195}, "y": {"datum": 1.16, "axis": null}}}
]
}
],
"spacing": 85,
"bounds": "flush"
}
